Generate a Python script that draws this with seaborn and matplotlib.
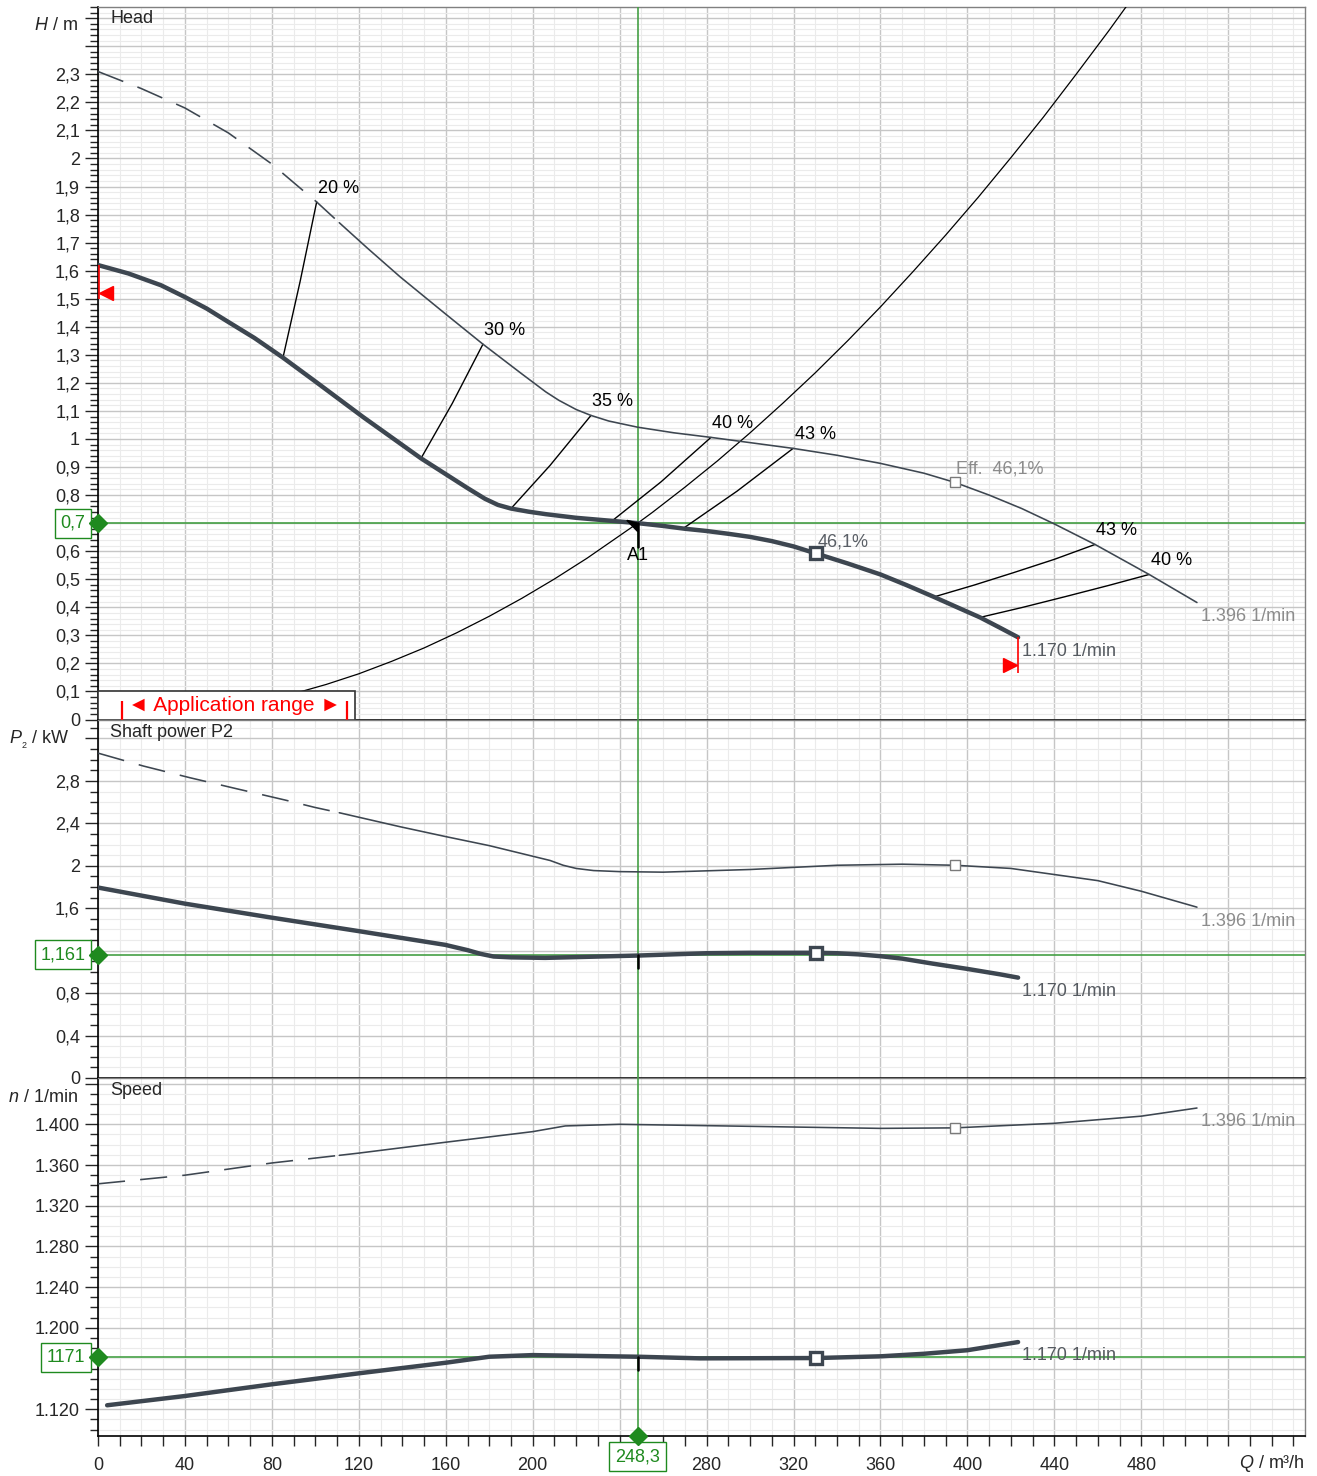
import numpy as np
import matplotlib
matplotlib.use('Agg')
import matplotlib.pyplot as plt
from matplotlib.ticker import MultipleLocator, FuncFormatter
from matplotlib.patches import Rectangle
import seaborn as sns

# operating point
q_op = 248.3
h_op = 0.7
p_op = 1.161
n_op = 1171

# head at 1170 1/min (thick) and 1396 1/min (thin)
q_h1170 = [0, 14, 29, 40, 50, 60, 72, 85.1, 100, 122, 148.6, 170, 178, 184, 190, 198, 206,
           220, 236.5, 248.3, 260, 270, 280, 290, 300, 310, 320, 330.3, 345, 360, 372, 384.6,
           395, 405.8, 415, 423.3]
h_h1170 = [1.62, 1.59, 1.548, 1.506, 1.465, 1.417, 1.36, 1.29, 1.205, 1.078, 0.931, 0.825,
           0.787, 0.765, 0.752, 0.741, 0.732, 0.719, 0.708, 0.70, 0.69, 0.68, 0.672, 0.662,
           0.651, 0.636, 0.617, 0.592, 0.556, 0.517, 0.479, 0.437, 0.401, 0.364, 0.327, 0.293]
q_h1396 = [0, 20, 40, 60, 80, 95.2, 100.6, 111, 124, 139, 160, 177.1, 195, 206, 212, 220,
           226.8, 235, 248.3, 265, 282, 300, 319.8, 340, 360, 380, 394.3, 410, 425, 439.5,
           458.7, 483.6, 505.6]
h_h1396 = [2.31, 2.249, 2.18, 2.091, 1.98, 1.88, 1.845, 1.771, 1.68, 1.578, 1.445, 1.338,
           1.232, 1.168, 1.138, 1.105, 1.084, 1.064, 1.042, 1.022, 1.0057, 0.987, 0.9665,
           0.942, 0.913, 0.878, 0.845, 0.80, 0.752, 0.699, 0.624, 0.517, 0.417]

# system curve
q_sys = [90, 105, 120, 135, 150, 165, 180, 195, 210, 225, 248.3, 255, 270, 285, 300, 315,
         330, 345, 360, 375, 390, 405, 420, 435, 450, 465, 480]
h_sys = [0.092, 0.125, 0.163, 0.207, 0.255, 0.309, 0.368, 0.432, 0.501, 0.575, 0.70, 0.738,
         0.828, 0.922, 1.022, 1.127, 1.236, 1.351, 1.471, 1.597, 1.727, 1.862, 2.003, 2.148,
         2.30, 2.455, 2.616]

# iso-efficiency lines (from 1170 curve up to 1396 curve)
eff_labels = ['20 %', '30 %', '35 %', '40 %', '43 %', '43 %', '40 %']
eff_q = [[85.1, 93, 100.6], [148.6, 163, 177.1], [190, 208, 226.8], [236.5, 259, 282],
         [269.2, 294, 319.8], [384.6, 403, 421, 440, 458.7], [405.8, 425, 445, 465, 483.6]]
eff_h = [[1.29, 1.562, 1.845], [0.931, 1.127, 1.338], [0.752, 0.906, 1.084],
         [0.708, 0.847, 1.0057], [0.681, 0.814, 0.9665],
         [0.437, 0.479, 0.523, 0.571, 0.624], [0.364, 0.399, 0.438, 0.478, 0.517]]

# shaft power P2
q_p1396 = [0, 20.9, 42.3, 64, 86, 99.8, 111, 139, 160, 180, 200, 208, 214, 220, 228, 240,
           260, 300, 340, 370, 394.3, 420, 460, 480, 505.6]
p_p1396 = [3.062, 2.94, 2.83, 2.725, 2.62, 2.55, 2.50, 2.368, 2.275, 2.19, 2.09, 2.05, 2.005,
           1.975, 1.955, 1.945, 1.94, 1.965, 2.005, 2.015, 2.005, 1.975, 1.86, 1.76, 1.61]
q_p1170 = [0, 40, 80, 120, 159.7, 170, 176, 182, 190, 205.7, 248.3, 280, 300, 330.3, 340,
           350, 360, 370, 384, 400, 415, 423.3]
p_p1170 = [1.795, 1.643, 1.511, 1.384, 1.255, 1.205, 1.17, 1.145, 1.137, 1.132, 1.154, 1.176,
           1.18, 1.18, 1.176, 1.165, 1.148, 1.125, 1.078, 1.028, 0.977, 0.946]

# speed
q_n1396 = [0, 40, 80, 111, 120, 160, 200, 215, 240, 270, 300, 360, 394.3, 440, 480, 505.6]
n_n1396 = [1341.5, 1350, 1362, 1369.5, 1371.7, 1382.4, 1392.8, 1398.4, 1400, 1399, 1398,
           1396, 1396.5, 1401, 1408, 1416]
q_n1170 = [4.2, 40, 80, 120, 160, 180, 200, 248.3, 277, 330.3, 360, 380, 400, 423.3]
n_n1170 = [1123.9, 1133, 1144.5, 1155.3, 1165.7, 1171.6, 1173.2, 1171.6, 1170, 1170.3, 1172,
           1174.5, 1178, 1186]

# best efficiency points
q_bep1170, h_bep1170, p_bep1170, n_bep1170 = 330.3, 0.592, 1.18, 1170.3
q_bep1396, h_bep1396, p_bep1396, n_bep1396 = 394.3, 0.845, 2.005, 1396.5

# application range
app_q = (0, 118.2)
app_h = 0.1
q_dash_end = 111

sns.set_style('white')
plt.rcParams['font.family'] = ['Liberation Sans', 'DejaVu Sans']
plt.rcParams['mathtext.fontset'] = 'custom'
plt.rcParams['mathtext.rm'] = 'Liberation Sans'
plt.rcParams['mathtext.it'] = 'Liberation Sans:italic'

FS = 13
DARK = '#3d4650'
GREEN = '#1f8a1f'
GREEN_LN = '#45a045'
GREY = '#8c8c8c'
W, H = 1317, 1476

fig = plt.figure(figsize=(W / 100, H / 100), dpi=100)
L, R = 98 / W, 1305 / W
ax_h = fig.add_axes([L, 1 - 719.5 / H, R - L, (719.5 - 7) / H])
ax_p = fig.add_axes([L, 1 - 1078 / H, R - L, (1078 - 720) / H])
ax_n = fig.add_axes([L, 1 - 1436 / H, R - L, (1436 - 1078) / H])


def comma_fmt(vmax, hide):
    def f(v, pos):
        if v > vmax + 1e-6 or any(abs(v - x) < 1e-6 for x in hide):
            return ''
        s = f'{v:.1f}'.replace('.', ',')
        return s[:-2] if s.endswith(',0') else s
    return FuncFormatter(f)


def speed_fmt(v, pos):
    if v > 1400.5 or abs(v - 1160) < 0.5:
        return ''
    return f'{int(round(v)):,}'.replace(',', '.')


def x_fmt(v, pos):
    if v > 480.5 or abs(v - 240) < 0.5:
        return ''
    return f'{int(round(v))}'


def style(ax, ylim, major, minor, yfmt):
    ax.set_xlim(0, 555.3)
    ax.set_ylim(*ylim)
    ax.xaxis.set_major_locator(MultipleLocator(40))
    ax.xaxis.set_minor_locator(MultipleLocator(10))
    ax.yaxis.set_major_locator(MultipleLocator(major))
    ax.yaxis.set_minor_locator(MultipleLocator(minor))
    ax.yaxis.set_major_formatter(yfmt)
    ax.grid(which='minor', color='#ebebeb', lw=0.8)
    ax.grid(which='major', color='#c6c6c6', lw=1.0)
    ax.set_axisbelow(True)
    ax.tick_params(axis='y', which='major', direction='out', length=9.4, width=1,
                   labelsize=FS, pad=3.5, left=True)
    ax.tick_params(axis='y', which='minor', direction='out', length=5.8, width=1, left=True)
    for s in ['left', 'bottom']:
        ax.spines[s].set_color('black')
        ax.spines[s].set_linewidth(1.2)
    for s in ['top', 'right']:
        ax.spines[s].set_color('#808080')
        ax.spines[s].set_linewidth(1.0)
    ax.set_xlabel('')
    ax.set_ylabel('')


def curve(ax, q, v, color, lw, dash_end=None):
    q = np.asarray(q, float)
    v = np.asarray(v, float)
    kw = dict(ax=ax, color=color, lw=lw, sort=False, zorder=4, solid_joinstyle='round')
    if dash_end is None:
        sns.lineplot(x=q, y=v, **kw)
        return
    m = q <= dash_end
    sns.lineplot(x=q[m], y=v[m], linestyle=(0, (17, 9.5)), **kw)
    m = q >= dash_end
    sns.lineplot(x=q[m], y=v[m], **kw)


def end_label(ax, q, v, text, color):
    ax.annotate(text, (q[-1], v[-1]), xytext=(3, -10), textcoords='offset points',
                ha='left', va='center', fontsize=FS, color=color, annotation_clip=False)


def bep_marks(ax, v1396, v1170):
    ax.plot([q_bep1396], [v1396], marker='s', ms=6.5, mfc='white', mec='#7a7a7a', mew=1,
            zorder=6)
    ax.plot([q_bep1170], [v1170], marker='s', ms=8.5, mfc='white', mec=DARK, mew=2.4,
            zorder=6)


def op_lines(ax, yval, ylabel):
    ax.axhline(yval, color=GREEN_LN, lw=1.2, zorder=3)
    ax.axvline(q_op, color=GREEN_LN, lw=1.2, zorder=3)
    ax.plot([0], [yval], marker='D', ms=9, color=GREEN, clip_on=False, zorder=8)
    ax.annotate(ylabel, (0, yval), xytext=(-9, 0), textcoords='offset points',
                ha='right', va='center', fontsize=FS, color=GREEN, annotation_clip=False,
                bbox=dict(boxstyle='square,pad=0.33', fc='white', ec=GREEN, lw=1))


# ---- Head
ax = ax_h
style(ax, (0, 2.54), 0.1, 0.02, comma_fmt(2.3, [0.7]))
ax.tick_params(axis='x', which='both', bottom=False, labelbottom=False)
op_lines(ax, h_op, '0,7')
curve(ax, q_h1396, h_h1396, DARK, 1.15, q_dash_end)
curve(ax, q_h1170, h_h1170, DARK, 3.2)
sns.lineplot(x=q_sys, y=h_sys, ax=ax, color='black', lw=0.9, sort=False, zorder=3)
for lab, qq, hh in zip(eff_labels, eff_q, eff_h):
    sns.lineplot(x=qq, y=hh, ax=ax, color='black', lw=1.0, sort=False, zorder=3)
    ax.annotate(lab, (qq[-1], hh[-1]), xytext=(1, 10), textcoords='offset points',
                ha='left', va='center', fontsize=FS, color='black', zorder=6)
bep_marks(ax, h_bep1396, h_bep1170)
ax.annotate('Eff.  46,1%', (q_bep1396, h_bep1396), xytext=(1, 9.5), textcoords='offset points',
            ha='left', va='center', fontsize=FS, color=GREY)
ax.annotate('46,1%', (q_bep1170, h_bep1170), xytext=(1, 8.5), textcoords='offset points',
            ha='left', va='center', fontsize=FS, color='#5a5f66')
end_label(ax, q_h1396, h_h1396, '1.396 1/min', GREY)
end_label(ax, q_h1170, h_h1170, '1.170 1/min', '#555a60')
# operating point marker A1
ax.plot([q_op, q_op], [h_op, h_op - 0.085], color='black', lw=1.8, zorder=7)
ax.fill([q_op - 5, q_op, q_op], [h_op + 0.01, h_op, h_op - 0.03], color='black', zorder=7)
ax.annotate('A1', (q_op, h_op), xytext=(0, -23), textcoords='offset points', ha='center',
            va='center', fontsize=FS, color='black')
# application range
ax.add_patch(Rectangle((app_q[0], 0), app_q[1] - app_q[0], app_h, fc='white', ec='#333333',
                       lw=1.2, zorder=5, clip_on=False))
ax.vlines([11, 114.5], 0, 0.065, color='red', lw=1.6, zorder=6)
ax.text(62.8, 0.05, '\u25c4 Application range \u25ba', color='red', fontsize=15,
        ha='center', va='center', zorder=6)
# limit markers
ax.plot([3.8], [1.52], marker='<', ms=10, color='red', clip_on=False, zorder=7)
ax.vlines([0.5], 1.50, 1.62, color='red', lw=1.2, zorder=6)
ax.plot([419.6], [0.193], marker='>', ms=10, color='red', zorder=7)
ax.vlines([q_h1170[-1]], 0.167, h_h1170[-1], color='red', lw=1.2, zorder=6)
ax.text(0.01, 0.996, 'Head', transform=ax.transAxes, ha='left', va='top', fontsize=FS)

# ---- Shaft power
ax = ax_p
style(ax, (0, 3.374), 0.4, 0.1, comma_fmt(2.8, [1.2]))
ax.tick_params(axis='x', which='both', bottom=False, labelbottom=False)
op_lines(ax, p_op, '1,161')
curve(ax, q_p1396, p_p1396, DARK, 1.15, q_dash_end)
curve(ax, q_p1170, p_p1170, DARK, 3.2)
bep_marks(ax, p_bep1396, p_bep1170)
ax.plot([q_op, q_op], [p_op, p_op - 0.12], color='black', lw=1.8, zorder=7)
end_label(ax, q_p1396, p_p1396, '1.396 1/min', GREY)
end_label(ax, q_p1170, p_p1170, '1.170 1/min', '#555a60')
ax.text(0.01, 0.99, 'Shaft power P2', transform=ax.transAxes, ha='left', va='top', fontsize=FS)

# ---- Speed
ax = ax_n
style(ax, (1093.7, 1445.5), 40, 10, FuncFormatter(speed_fmt))
ax.xaxis.set_major_formatter(FuncFormatter(x_fmt))
ax.tick_params(axis='x', which='both', direction='out', length=7.2, width=1, labelsize=FS,
               pad=8, bottom=True)
op_lines(ax, n_op, '1171')
curve(ax, q_n1396, n_n1396, DARK, 1.15, q_dash_end)
curve(ax, q_n1170, n_n1170, DARK, 3.2)
bep_marks(ax, n_bep1396, n_bep1170)
ax.plot([q_op, q_op], [n_op, n_op - 12], color='black', lw=1.8, zorder=7)
end_label(ax, q_n1396, n_n1396, '1.396 1/min', GREY)
end_label(ax, q_n1170, n_n1170, '1.170 1/min', '#555a60')
ax.plot([q_op], [1093.7], marker='D', ms=9, color=GREEN, clip_on=False, zorder=8)
ax.annotate('248,3', (q_op, 1093.7), xytext=(0, -15), textcoords='offset points',
            ha='center', va='center', fontsize=FS, color=GREEN, annotation_clip=False,
            bbox=dict(boxstyle='square,pad=0.33', fc='white', ec=GREEN, lw=1))
ax.text(0.01, 0.99, 'Speed', transform=ax.transAxes, ha='left', va='top', fontsize=FS)

# axis titles
fig.text(78 / W, 1 - 26 / H, '$H$ / m', ha='right', va='center', fontsize=FS)
fig.text(70 / W, 1 - 740 / H, '$P_{_2}$ / kW', ha='right', va='center', fontsize=FS)
fig.text(78 / W, 1 - 1097 / H, '$n$ / 1/min', ha='right', va='center', fontsize=FS)
fig.text(1305 / W, 1 - 1464 / H, '$Q$ / m\u00b3/h', ha='right', va='center', fontsize=FS)

fig.savefig('out.png', dpi=100)
